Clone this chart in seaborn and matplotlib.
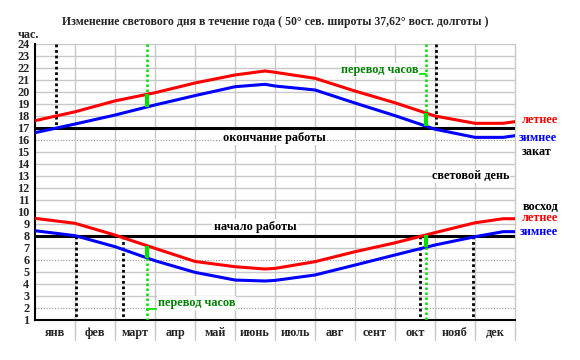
import numpy as np
import pandas as pd
import matplotlib
matplotlib.use("Agg")
import matplotlib.pyplot as plt
import seaborn as sns

# ---- data (month units: 0 = 1 Jan, 12 = 31 Dec) ----
months_x = [0, 1, 2, 3, 4, 5, 5.75, 6, 7, 8, 9, 10, 11, 11.7, 12]
sunset_winter = [16.61, 17.33, 18.08, 18.92, 19.70, 20.44, 20.64, 20.50, 20.17, 19.08, 18.03, 16.90, 16.22, 16.22, 16.36]
sunset_summer = [17.61, 18.35, 19.26, 19.94, 20.75, 21.42, 21.75, 21.64, 21.14, 20.08, 19.10, 18.00, 17.39, 17.39, 17.53]
sunrise_summer = [9.47, 9.06, 8.08, 6.97, 5.88, 5.44, 5.25, 5.30, 5.86, 6.69, 7.43, 8.28, 9.10, 9.44, 9.44]
sunrise_winter = [8.44, 8.03, 7.11, 5.94, 4.97, 4.33, 4.25, 4.30, 4.75, 5.58, 6.42, 7.25, 7.94, 8.36, 8.36]

month_labels = ["янв", "фев", "март", "апр", "май", "июнь", "июль", "авг", "сент", "окт", "нояб", "дек"]
y_ticks = list(range(1, 25))
work_end = 17
work_start = 8
dotted_grid = [16, 6, 2]
clock_change = [2.79, 9.775]
sunset_marks = [0.525, 10.025]
sunrise_marks = [1.02, 2.19, 9.625, 10.94]

title = "Изменение светового дня в течение года ( 50° сев. широты 37,62° вост. долготы )"

sns.set_style("white")
plt.rcParams["font.family"] = ["Liberation Serif", "DejaVu Serif"]
plt.rcParams["font.weight"] = "bold"

fig = plt.figure(figsize=(5.8, 3.6), dpi=100)
ax = fig.add_axes([35 / 580, 40 / 360, 480 / 580, 276 / 360])
ax.set_xlim(0, 12)
ax.set_ylim(1, 24)

grid_c = "#c8c8c8"
# horizontal grid
for v in y_ticks[1:]:
    if v in dotted_grid:
        ax.axhline(v, color="#909090", lw=0.8, ls=(0, (1, 1.5)), zorder=1)
    else:
        ax.axhline(v, color=grid_c, lw=1.0, zorder=1)
# vertical grid extending into the category row
for k in range(1, 13):
    ax.plot([k, k], [1 - 20 / 12, 24], color=grid_c, lw=1.0, clip_on=False, zorder=1)

# work lines
ax.axhline(work_end, color="black", lw=2.2, zorder=3)
ax.axhline(work_start, color="black", lw=2.2, zorder=3)

df = pd.DataFrame({
    "x": months_x * 4,
    "y": sunset_summer + sunset_winter + sunrise_summer + sunrise_winter,
    "s": ["ss"] * len(months_x) + ["sw"] * len(months_x) + ["rs"] * len(months_x) + ["rw"] * len(months_x),
})
pal = {"ss": "#ff0000", "sw": "#0000ff", "rs": "#ff0000", "rw": "#0000ff"}
sns.lineplot(data=df, x="x", y="y", hue="s", palette=pal, lw=2.2, legend=False,
             ax=ax, zorder=4, sort=False, estimator=None)

# black dotted markers
for x in sunset_marks:
    ax.plot([x, x], [24, work_end], color="black", lw=2.0, ls=(0, (1, 1)), zorder=3)
for x in sunrise_marks:
    ax.plot([x, x], [work_start, 1], color="black", lw=2.0, ls=(0, (1, 1)), zorder=3)

# clock change (green)
lime = "#00e000"
for x in clock_change:
    top_r = np.interp(x, months_x, sunset_summer)
    top_b = np.interp(x, months_x, sunset_winter)
    bot_r = np.interp(x, months_x, sunrise_summer)
    bot_b = np.interp(x, months_x, sunrise_winter)
    ax.plot([x, x], [24, top_r], color=lime, lw=1.8, ls=(0, (1, 1)), zorder=5)
    ax.plot([x, x], [top_r, top_b], color=lime, lw=3.0, zorder=5, solid_capstyle="butt")
    ax.plot([x, x], [bot_r, bot_b], color=lime, lw=3.0, zorder=5, solid_capstyle="butt")
    ax.plot([x, x], [bot_b, 1], color=lime, lw=1.8, ls=(0, (1, 1)), zorder=5)
ax.plot([9.225, 9.775], [21.5, 21.5], color=lime, lw=1.2, zorder=5)
ax.plot([2.79, 3.05], [1.92, 1.92], color=lime, lw=1.2, zorder=5)

fs = 8.8
green_txt = "#008000"
wb = dict(facecolor="white", edgecolor="none", pad=0.5)
ax.text(8.625, 21.83, "перевод часов", color=green_txt, fontsize=fs, ha="center", va="center",
        fontweight="bold", zorder=6, bbox=wb)
ax.text(3.07, 2.42, "перевод часов", color=green_txt, fontsize=fs, ha="left", va="center",
        fontweight="bold", zorder=6, bbox=wb)
ax.text(5.975, 16.17, "окончание работы", color="black", fontsize=fs, ha="center", va="center",
        fontweight="bold", zorder=6, bbox=wb)
ax.text(10.9, 13.0, "световой день", color="black", fontsize=fs, ha="center", va="center",
        fontweight="bold", zorder=6, bbox=wb)
ax.text(5.5, 8.75, "начало работы", color="black", fontsize=fs, ha="center", va="center",
        fontweight="bold", zorder=6, bbox=dict(facecolor="white", edgecolor="none", pad=1.5))

# right side labels
side = [(12.17, 17.7, "летнее", "#ff0000"), (12.1, 16.2, "зимнее", "#0000ff"),
        (12.17, 15.0, "закат", "black"), (12.2, 10.45, "восход", "black"),
        (12.17, 9.5, "летнее", "#ff0000"), (12.12, 8.3, "зимнее", "#0000ff")]
for x, y, t, c in side:
    ax.text(x, y, t, color=c, fontsize=fs, ha="left", va="center", fontweight="bold", clip_on=False)

# axes styling
for s in ["top", "right"]:
    ax.spines[s].set_visible(False)
ax.spines["left"].set_color("black")
ax.spines["left"].set_linewidth(1.5)
ax.spines["bottom"].set_color("black")
ax.spines["bottom"].set_linewidth(1.5)
ax.set_yticks(y_ticks)
ax.set_yticklabels([str(v) for v in y_ticks], fontsize=fs, fontweight="bold")
ax.set_xticks([k + 0.5 for k in range(12)])
ax.set_xticklabels(month_labels, fontsize=fs, fontweight="bold")
ax.tick_params(axis="both", length=0)
ax.tick_params(axis="y", pad=4)
ax.tick_params(axis="x", pad=5)
ax.set_xlabel("")
ax.set_ylabel("")

fig.text(275 / 580, 1 - 22 / 360, title, ha="center", va="center", fontsize=8.5, fontweight="bold")
fig.text(18 / 580, 1 - 35 / 360, "час.", ha="left", va="center", fontsize=fs, fontweight="bold")

fig.savefig("out.png", dpi=100, facecolor="white")
